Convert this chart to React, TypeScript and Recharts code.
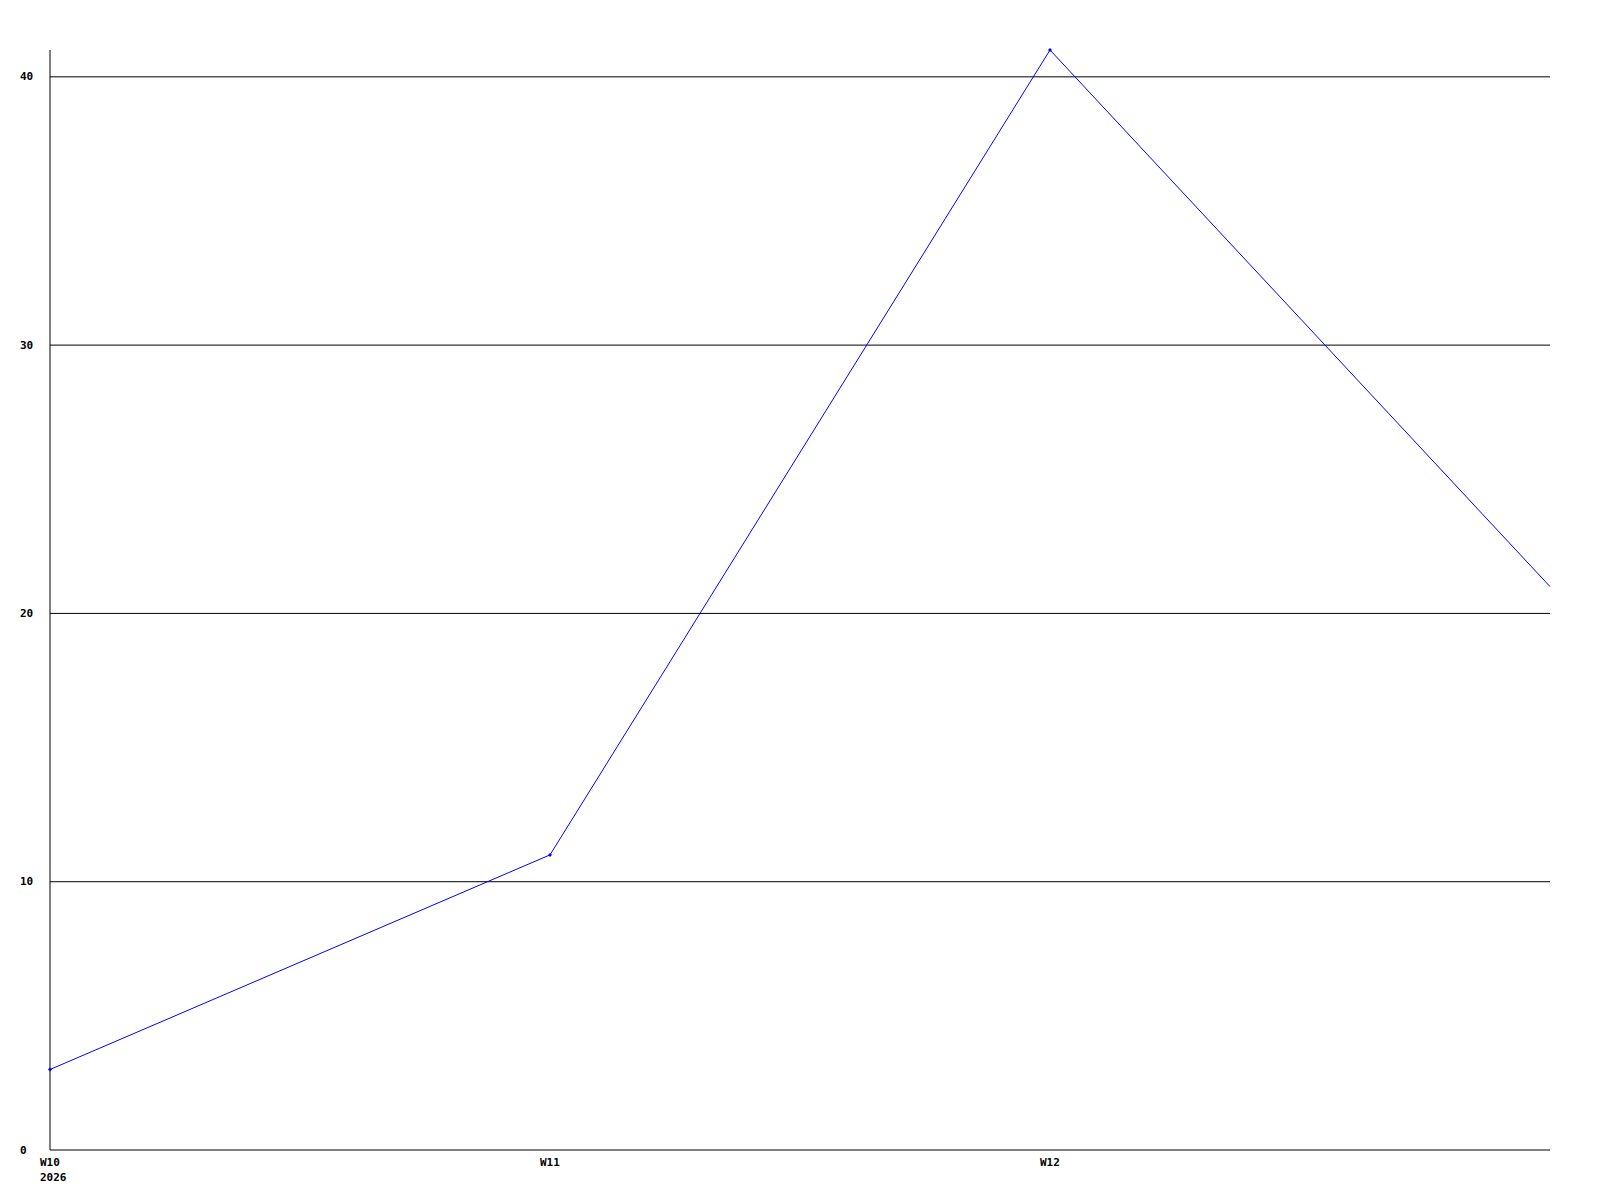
import React from "react";
import { LineChart, Line, XAxis, YAxis, ReferenceLine } from "recharts";

const weeks = ["W10", "W11", "W12", "W13"];
const yearLabels = ["2026", "", "", ""];
const values = [3, 11, 41, 21];
const yTicks = [0, 10, 20, 30, 40];
const gridValues = [10, 20, 30, 40];

const data = weeks.map((w, i) => ({ week: w, year: yearLabels[i], value: values[i] }));

const FONT = "'DejaVu Sans Mono', 'Liberation Mono', monospace";

const YTick = (props: any) => {
  const { y, payload } = props;
  return (
    <text x={20} y={y} dominantBaseline="central" textAnchor="start" fontFamily={FONT} fontWeight="bold" fontSize={11} fill="#000">
      {payload.value}
    </text>
  );
};

const XTick = (props: any) => {
  const { x, y, payload, index } = props;
  if (payload.value === "W13") return null;
  const yr = yearLabels[index];
  return (
    <g>
      <text x={x - 10} y={y + 4} dominantBaseline="central" textAnchor="start" fontFamily={FONT} fontWeight="bold" fontSize={11} fill="#000">
        {payload.value}
      </text>
      {yr ? (
        <text x={x - 10} y={y + 19} dominantBaseline="central" textAnchor="start" fontFamily={FONT} fontWeight="bold" fontSize={11} fill="#000">
          {yr}
        </text>
      ) : null}
    </g>
  );
};

const Dot = (props: any) => {
  const { cx, cy, index } = props;
  if (index === values.length - 1) return <g key={index} />;
  return (
    <path
      key={index}
      d={`M${cx - 2},${cy} L${cx},${cy - 2} L${cx + 2},${cy} L${cx},${cy + 2} Z`}
      fill="#0000ff"
      stroke="none"
    />
  );
};

export default function App() {
  return (
    <div style={{ position: "absolute", left: 0, top: 0, width: 1600, height: 1200, background: "#fff" }}>
      <LineChart width={1600} height={1200} data={data} margin={{ top: 50, right: 50, bottom: 0, left: 0 }}>
        {gridValues.map((v) => (
          <ReferenceLine key={v} y={v} stroke="#000" strokeWidth={1} ifOverflow="visible" />
        ))}
        <XAxis
          dataKey="week"
          height={50}
          axisLine={{ stroke: "#000", strokeWidth: 1 }}
          tickLine={false}
          tick={<XTick />}
          interval={0}
          padding={{ left: 0, right: 0 }}
        />
        <YAxis
          width={50}
          domain={[0, 41]}
          ticks={yTicks}
          axisLine={{ stroke: "#000", strokeWidth: 1 }}
          tickLine={false}
          tick={<YTick />}
          interval={0}
        />
        <Line
          type="linear"
          dataKey="value"
          stroke="#0000ff"
          strokeWidth={1}
          dot={<Dot />}
          activeDot={false}
          isAnimationActive={false}
        />
      </LineChart>
    </div>
  );
}
